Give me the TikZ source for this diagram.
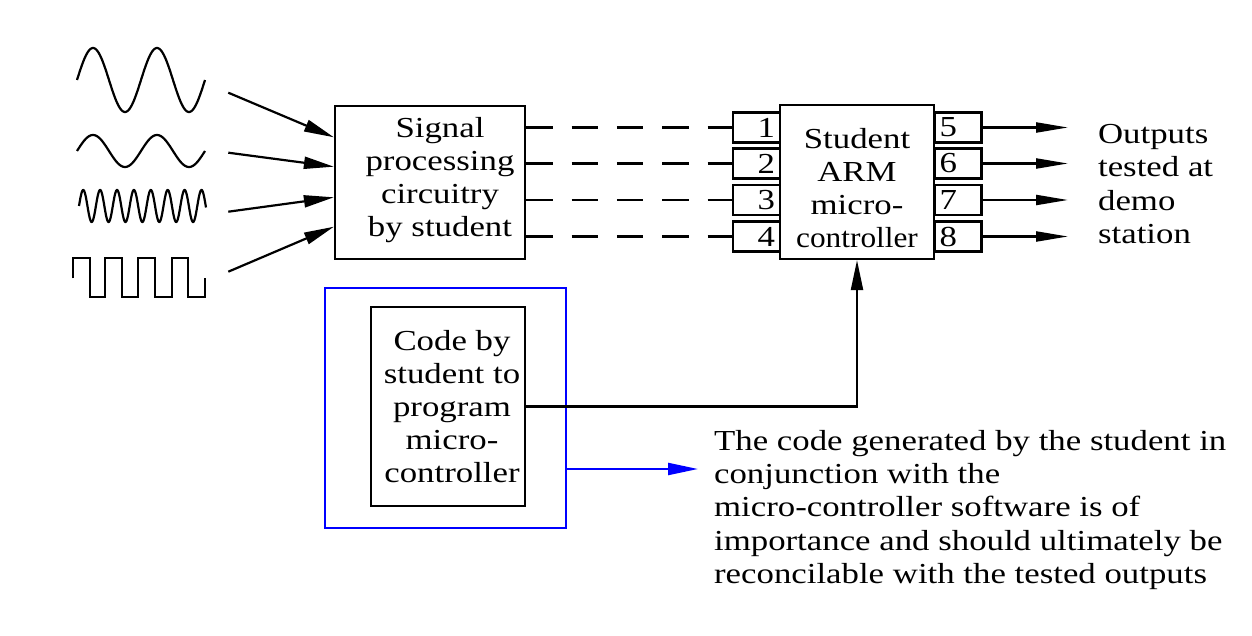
\documentclass[tikz,border=0pt]{standalone}
\usepackage{fontspec}
\setmainfont{Liberation Serif}[FakeStretch=1.2]
\usetikzlibrary{arrows.meta}
\begin{document}
\begin{tikzpicture}[x=0.5pt,y=-0.5pt,line width=1.1pt,
  box/.style={draw,line width=1.1pt,inner sep=0pt},
  txt/.style={font=\fontsize{14.5}{16.6}\selectfont,align=center,inner sep=0pt},
  ltxt/.style={font=\fontsize{14.5}{16.6}\selectfont,align=left,inner sep=0pt,anchor=west},
  lpin/.style={draw,line width=1.1pt,minimum width=23.5pt,minimum height=15pt,text width=18.5pt,
    inner xsep=2.5pt,inner ysep=0pt,align=right,font=\fontsize{14.5}{16.6}\selectfont},
  rpin/.style={lpin,align=left},
  inarr/.style={-{Triangle[length=15pt,width=6pt]}},
  outarr/.style={-{Triangle[length=16pt,width=5pt]}},
  dashline/.style={dash pattern=on 13.2pt off 9.5pt},
  bluec/.style={draw=blue,line width=1.1pt}]
\path[use as bounding box] (0,0) rectangle (1252,636);

% waves
\draw plot[domain=77:205,samples=160,smooth] (\x,{80-32*sin(5.625*(\x-77))});
\draw plot[domain=77:205,samples=160,smooth] (\x,{151-16*sin(5.625*(\x-77))});
\draw plot[domain=79:206,samples=300,smooth] (\x,{206-16*sin(21.3018*(\x-79))});
\draw (73.3,278.3) -- (73.3,258.3) -- (90,258.3) -- (90,296.7) -- (105,296.7) -- (105,258.3)
  -- (121.7,258.3) -- (121.7,296.7) -- (138.3,296.7) -- (138.3,258.3) -- (155,258.3)
  -- (155,296.7) -- (171.7,296.7) -- (171.7,258.3) -- (188.3,258.3) -- (188.3,296.7)
  -- (205,296.7) -- (205,278.3);

% boxes
\node[box,minimum width=95pt,minimum height=76.5pt] (sp) at (430,182.5) {};
\node[txt] (sptext) at (440,180) {Signal\\processing\\circuitry\\by student};

\node[box,minimum width=77pt,minimum height=77pt] (mcu) at (857,182) {};
\node[txt] (mcutext) at (857,188) {Student\\ARM\\micro-\\\scalebox{0.9}[1]{controller}};

\node[lpin] (p1) at (756.5,127.5) {1};
\node[lpin] (p2) at (756.5,163.5) {2};
\node[lpin] (p3) at (756.5,200) {3};
\node[lpin] (p4) at (756.5,236.5) {4};
\node[rpin] (p5) at (958,127.5) {5};
\node[rpin] (p6) at (958,163.5) {6};
\node[rpin] (p7) at (958,200) {7};
\node[rpin] (p8) at (958,236.5) {8};

\node[ltxt] (outtext) at (1097,184) {Outputs\\tested at\\demo\\station};

\node[bluec,inner sep=0pt,minimum width=120.5pt,minimum height=120pt] (bluebox) at (445.5,408) {};
\node[box,minimum width=77pt,minimum height=99.5pt] (code) at (448,406.5) {};
\node[txt] (codetext) at (452,406.5) {Code by\\student to\\program\\micro-\\controller};

\node[ltxt] (desc) at (713,510) {The code generated by the student in\\conjunction with the\\micro-controller software is of\\importance and should ultimately be\\reconcilable with the tested outputs};

% input arrows
\coordinate (w1) at (228.3,92.7);
\coordinate (w2) at (228.3,152.7);
\coordinate (w3) at (228.3,211.7);
\coordinate (w4) at (228.3,271.7);
\draw[inarr] (w1) -- (sp.west |- 0,137.3);
\draw[inarr] (w2) -- (sp.west |- 0,166.7);
\draw[inarr] (w3) -- (sp.west |- 0,197.3);
\draw[inarr] (w4) -- (sp.west |- 0,226.7);

% dashed links
\draw[dashline] (sp.east |- p1.west) -- (p1.west);
\draw[dashline] (sp.east |- p2.west) -- (p2.west);
\draw[dashline] (sp.east |- p3.west) -- (p3.west);
\draw[dashline] (sp.east |- p4.west) -- (p4.west);

% outputs
\coordinate (o5) at (1068,127.5);
\coordinate (o6) at (1068,163.5);
\coordinate (o7) at (1068,200);
\coordinate (o8) at (1068,236.5);
\draw[outarr] (p5.east) -- (o5);
\draw[outarr] (p6.east) -- (o6);
\draw[outarr] (p7.east) -- (o7);
\draw[outarr] (p8.east) -- (o8);

% code to mcu
\draw[inarr] (code.east) -| (mcu.south);

% blue arrow
\coordinate (bt) at (698,469);
\draw[blue,inarr] (bluebox.east |- 0,469) -- (bt);
\end{tikzpicture}
\end{document}
